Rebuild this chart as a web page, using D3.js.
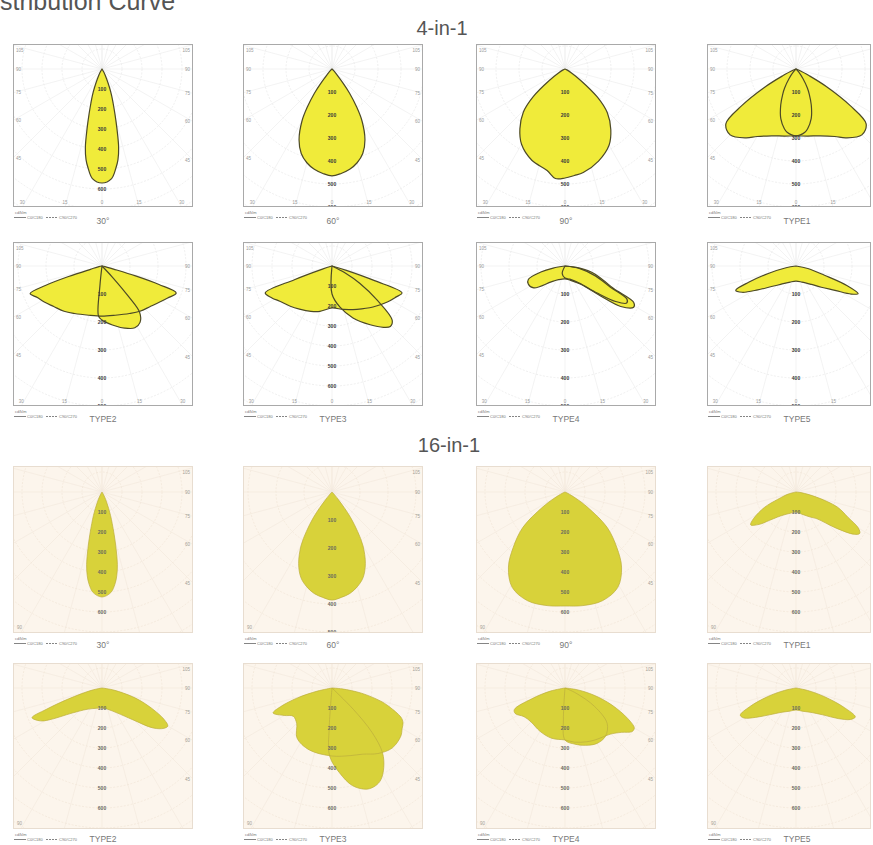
<!DOCTYPE html>
<html><head><meta charset="utf-8">
<script src="https://cdn.jsdelivr.net/npm/d3@7"></script>
<style>html,body{margin:0;padding:0;background:#fff;overflow:hidden}</style>
</head><body><svg id="c" width="873" height="845"></svg>
<script>
// ---------------- DATA ----------------
const pageTitle = "Light Distribution Curve";
const groupTitles = ["4-in-1", "16-in-1"];
const captions4 = ["30°", "60°", "90°", "TYPE1", "TYPE2", "TYPE3", "TYPE4", "TYPE5"];
const captions16 = ["30°", "60°", "90°", "TYPE1", "TYPE2", "TYPE3", "TYPE4", "TYPE5"];
const ringTicks = [100, 200, 300, 400, 500, 600];      // cd/klm
const ringStep = 100;
const angleTicks = [-180,-165,-150,-135,-120,-105,-90,-75,-60,-45,-30,-15,0,15,30,45,60,75,90,105,120,135,150,165,180];
const legendUnit = "cd/klm";
const legendLabels = ["C0/C180", "C90/C270"];

// curves: [angle from nadir (deg), intensity (cd/klm)]
// 4-in-1
const a4_30 = [[-40,0],[-30,20],[-25,55],[-22,100],[-20,140],[-18,180],[-16,235],[-14,310],[-12,400],[-10,460],[-8,500],[-5,550],[0,570],[5,550],[8,500],[10,460],[12,400],[14,310],[16,235],[18,180],[20,140],[22,100],[25,55],[30,20],[40,0]];
const a4_60 = [[-50,0],[-45,9],[-40,35],[-38,78],[-36,130],[-33,196],[-30,261],[-25,339],[-20,391],[-15,422],[-10,443],[-5,456],[0,465],[5,456],[10,443],[15,422],[20,391],[25,339],[30,261],[33,196],[36,130],[38,78],[40,35],[45,9],[50,0]];
const a4_90 = [[-75,0],[-65,9],[-58,35],[-54,83],[-49,183],[-44,261],[-37,326],[-30,378],[-20,422],[-10,448],[-5,478],[0,474],[5,465],[10,457],[20,426],[30,383],[37,331],[44,265],[49,187],[54,83],[58,35],[65,9],[75,0]];
const a4_t1_c90 = [[-75,0],[-68,17],[-63,65],[-60,152],[-56,283],[-52,387],[-45,405],[-36,370],[-30,339],[-20,309],[-10,296],[0,291],[10,296],[20,309],[30,339],[36,370],[45,405],[52,387],[56,283],[60,152],[63,65],[68,17],[75,0]];
const a4_t1_c0 = [[-50,0],[-42,17],[-36,52],[-31,96],[-28,122],[-23,170],[-17,226],[-11,265],[-8,278],[0,291],[8,278],[11,265],[17,226],[23,170],[28,122],[31,96],[36,52],[42,17],[50,0]];
const a4_t2_c90 = [[-85,0],[-78,11],[-74,43],[-72.5,125],[-71,214],[-69,275],[-64,257],[-58,243],[-50,225],[-40,211],[-30,196],[-15,182],[0,179],[15,182],[30,196],[40,211],[50,225],[58,243],[64,261],[70,282],[72,214],[73.5,125],[75,43],[79,11],[86,0]];
const a4_t2_c0 = [[-10,0],[-6,71],[-4,179],[0,193],[10,214],[20,236],[28,250],[34,243],[39,214],[41,143],[43,54],[48,0]];
const a4_t3_c90 = [[-80,0],[-72,50],[-70,200],[-68,360],[-62,340],[-56,315],[-46,290],[-37,270],[-25,250],[-15,235],[0,210],[15,225],[30,250],[45,290],[57,330],[64,355],[69,375],[71,225],[73,75],[78,0]];
const a4_t3_c0 = [[-5,0],[0,140],[11,210],[22,280],[33,350],[40,400],[44,420],[48,405],[53,280],[58,165],[62,75],[66,0]];
const a4_t4_c90 = [[-85,0],[-80,43],[-76,89],[-70,139],[-64,146],[-55,136],[-41,75],[-25,54],[0,46],[20,54],[41,86],[50,168],[54,246],[59,286],[62,278],[65,193],[70,143],[77,96],[84,36],[90,0]];
const a4_t4_c0 = [[-40,0],[-20,29],[0,43],[20,50],[40,79],[50,150],[55,221],[59,257],[62,250],[65,179],[72,114],[80,54],[88,0]];
const a4_t5 = [[-85,0],[-80,36],[-75,100],[-71,179],[-68,232],[-64,214],[-58,161],[-50,114],[-40,86],[-20,61],[0,54],[20,61],[40,86],[50,118],[58,164],[63,221],[66,243],[69,196],[72,107],[78,43],[85,0]];
// 16-in-1
const b16_30 = [[-40,0],[-30,15],[-25,50],[-22,90],[-20,125],[-18,165],[-16,220],[-14,290],[-12,370],[-10,425],[-8,465],[-5,505],[0,525],[5,505],[8,465],[10,425],[12,370],[14,290],[16,220],[18,165],[20,125],[22,90],[25,50],[30,15],[40,0]];
const b16_60 = [[-50,0],[-45,7],[-40,32],[-38,71],[-36,114],[-33,168],[-30,221],[-25,282],[-20,325],[-15,350],[-10,368],[-5,378],[0,386],[5,378],[10,368],[15,350],[20,325],[25,282],[30,221],[33,168],[36,114],[38,71],[40,32],[45,7],[50,0]];
const b16_90 = [[-75,0],[-65,15],[-60,60],[-56,135],[-50,275],[-43,380],[-37,470],[-29,545],[-19,575],[-9,575],[0,570],[9,575],[19,575],[29,545],[37,470],[43,380],[50,275],[56,135],[60,60],[65,15],[75,0]];
const b16_t1 = [[-85,0],[-75,40],[-68,100],[-64,175],[-58,250],[-54,280],[-48,240],[-45,210],[-32,140],[-15,110],[0,100],[15,115],[30,145],[38,170],[48,270],[54,360],[57,380],[60,360],[64,290],[70,220],[76,105],[83,25],[88,0]];
const b16_t2 = [[-85,0],[-78,50],[-72,175],[-69,300],[-67,380],[-62,350],[-59,310],[-50,195],[-35,130],[-15,105],[0,100],[15,110],[31,145],[44,220],[52,325],[57,370],[60,380],[63,350],[66,300],[70,230],[74,160],[80,60],[86,0]];
const b16_t3_c90 = [[-85,0],[-78,75],[-74,180],[-70,275],[-67,320],[-60,275],[-54,240],[-45,250],[-35,305],[-20,330],[0,340],[15,350],[25,365],[35,400],[45,425],[55,420],[60,405],[64,395],[67,375],[72,300],[75,250],[80,150],[85,50],[90,0]];
const b16_t3_c0 = [[-8,0],[-4,200],[-2,340],[5,425],[12,500],[19,535],[24,535],[28,520],[33,475],[38,410],[42,300],[45,150],[48,0]];
const b16_t4_c90 = [[-85,0],[-78,75],[-72,175],[-67,275],[-63,280],[-55,250],[-45,240],[-30,250],[-15,260],[0,260],[10,275],[22,290],[30,300],[38,310],[45,325],[52,360],[57,400],[60,400],[64,350],[70,250],[76,150],[82,60],[88,0]];
const b16_t4_c0 = [[-6,0],[-3,150],[0,260],[10,285],[20,305],[30,320],[40,315],[50,275],[58,175],[65,60],[72,0]];
const b16_t5 = [[-85,0],[-78,60],[-73,150],[-68,250],[-64,310],[-60,300],[-54,250],[-45,190],[-30,140],[-15,120],[0,110],[15,120],[30,140],[45,190],[54,260],[60,315],[64,330],[68,260],[73,150],[78,60],[85,0]];

const panelCurves = [
  [a4_30],[a4_60],[a4_90],[a4_t1_c90,a4_t1_c0],
  [a4_t2_c90,a4_t2_c0],[a4_t3_c90,a4_t3_c0],[a4_t4_c90,a4_t4_c0],[a4_t5],
  [b16_30],[b16_60],[b16_90],[b16_t1],
  [b16_t2],[b16_t3_c90,b16_t3_c0],[b16_t4_c90,b16_t4_c0],[b16_t5]
];
const panelCaptions = captions4.concat(captions16);

// ---------------- LAYOUT / STYLE ----------------
const colLeft = [13, 243, 476, 707];
const rowsL = [{top:44,h:163,oy:25},{top:242,h:164,oy:24},{top:466,h:167,oy:26},{top:663,h:166,oy:25}];
const captionDY = [17, 16, 15, 13];
const boxW = 180, rightLimit = 871, originDX = 89;
const ringPx = [20,23,23,23, 28,20,28,28, 20,28,20,20, 20,20,20,20];
const styles = [
  {bg:"#ffffff", border:"#a9a9a9", ring:"#e8e8e8", ray:"#ebebeb", fill:"#f0eb3a", stroke:"#4d4a26", sw:1.2, lab:"#3a3a3a", edge:"#9a9a9a"},
  {bg:"#fcf5ec", border:"#e8ddd0", ring:"#f0e5d7", ray:"#f2e8dc", fill:"#d8d23a", stroke:"#bcae3c", sw:0.7, lab:"#6a6a60", edge:"#a59f97"}
];
const font = "'Liberation Sans', Arial, sans-serif";

const svg = d3.select("#c");
const defs = svg.append("defs");

// title: only its tail "stribution Curve" is visible, starting at the left edge
const titleT = svg.append("text").attr("x", 0).attr("y", 10)
  .attr("font-family", font).attr("font-size", 25).attr("fill", "#555").text(pageTitle);
const cutPos = titleT.node().getStartPositionOfChar(8).x;
titleT.attr("x", -cutPos);

svg.append("text").attr("x", 442).attr("y", 35).attr("text-anchor","middle")
  .attr("font-family", font).attr("font-size", 20).attr("fill", "#555").text(groupTitles[0]);
svg.append("text").attr("x", 449).attr("y", 452).attr("text-anchor","middle")
  .attr("font-family", font).attr("font-size", 20).attr("fill", "#555").text(groupTitles[1]);

panelCurves.forEach((curves, i) => {
  const row = Math.floor(i / 4), col = i % 4, grp = row < 2 ? 0 : 1;
  const st = styles[grp];
  const L = rowsL[row];
  const left = colLeft[col], top = L.top, h = L.h;
  const w = Math.min(boxW, rightLimit - left);
  const ox = originDX, oy = L.oy;
  const rScale = d3.scaleLinear().domain([0, ringStep]).range([0, ringPx[i]]);

  const g = svg.append("g").attr("transform", `translate(${left},${top})`);
  const cid = "clip" + i;
  defs.append("clipPath").attr("id", cid).append("rect").attr("width", w).attr("height", h);

  g.append("rect").attr("width", w).attr("height", h).attr("fill", st.bg);
  const inner = g.append("g").attr("clip-path", `url(#${cid})`);

  // rays
  inner.selectAll("line.ray").data(angleTicks).join("line")
    .attr("x1", ox).attr("y1", oy)
    .attr("x2", d => ox + 400 * Math.sin(d * Math.PI / 180))
    .attr("y2", d => oy + 400 * Math.cos(d * Math.PI / 180))
    .attr("stroke", st.ray).attr("stroke-width", 0.6);
  // rings
  const ringVals = d3.range(1, 10).map(k => k * ringStep);
  inner.selectAll("circle.ring").data(ringVals).join("circle")
    .attr("cx", ox).attr("cy", oy).attr("r", d => rScale(d))
    .attr("fill", "none").attr("stroke", st.ring).attr("stroke-width", 0.7)
    .attr("stroke-dasharray", "2,1.5");

  // curves
  const line = d3.lineRadial()
    .angle(d => Math.PI - d[0] * Math.PI / 180)
    .radius(d => rScale(d[1]))
    .curve(d3.curveCatmullRomClosed.alpha(0.5));
  const sg = inner.append("g").attr("transform", `translate(${ox},${oy})`);
  sg.selectAll("path.fill").data(curves).join("path")
    .attr("d", line).attr("fill", st.fill).attr("stroke", "none");
  sg.selectAll("path.line").data(curves).join("path")
    .attr("d", line).attr("fill", "none").attr("stroke", st.stroke)
    .attr("stroke-width", st.sw).attr("stroke-linejoin", "round");

  // ring labels
  inner.selectAll("text.rl").data(ringTicks).join("text")
    .attr("x", ox).attr("y", d => oy + rScale(d) + 1.8)
    .attr("text-anchor", "middle").attr("font-family", font)
    .attr("font-size", 5).attr("font-weight", "bold").attr("fill", st.lab).text(d => d);

  // border
  g.append("rect").attr("x", 0.5).attr("y", 0.5).attr("width", w - 1).attr("height", h - 1)
    .attr("fill", "none").attr("stroke", st.border).attr("stroke-width", 1);

  // edge angle labels
  angleTicks.forEach(a => {
    const s = Math.sin(a * Math.PI / 180), c = Math.cos(a * Math.PI / 180);
    let best = Infinity, edge = null;
    if (s < -1e-6) { const t = -ox / s; if (t < best) { best = t; edge = "L"; } }
    if (s > 1e-6) { const t = (boxW - ox) / s; if (t < best) { best = t; edge = "R"; } }
    if (c > 1e-6) { const t = (h - oy) / c; if (t < best) { best = t; edge = "B"; } }
    if (c < -1e-6) { const t = -oy / c; if (t < best) { best = t; edge = "T"; } }
    if (edge === "T") return;
    if (grp === 1 && edge !== "R") return;
    let x = ox + best * s, y = oy + best * c;
    let anchor = "middle";
    if (edge === "L") { x = 3; anchor = "start"; y = Math.max(6, Math.min(h - 6, y)) + 1.5; }
    if (edge === "R") { x = boxW - 3; anchor = "end"; y = Math.max(6, Math.min(h - 6, y)) + 1.5; }
    if (edge === "B") { y = h - 3; x = Math.max(6, Math.min(boxW - 6, x)); }
    if (x > w) return;
    g.append("text").attr("x", x).attr("y", y).attr("text-anchor", anchor)
      .attr("font-family", font).attr("font-size", 4.5).attr("fill", st.edge).text(Math.abs(a));
  });
  if (grp === 1) {
    g.append("text").attr("x", 4).attr("y", h - 4).attr("font-family", font)
      .attr("font-size", 4.5).attr("fill", st.edge).text(angleTicks[6] * -1);
  }

  // legend
  const lg = g.append("g").attr("transform", `translate(0,${h})`);
  lg.append("text").attr("x", 2).attr("y", 7).attr("font-family", font).attr("font-size", 4)
    .attr("fill", "#777").text(legendUnit);
  lg.append("line").attr("x1", 1).attr("x2", 13).attr("y1", 10.5).attr("y2", 10.5)
    .attr("stroke", "#666").attr("stroke-width", 0.8);
  lg.append("text").attr("x", 14).attr("y", 12).attr("font-family", font).attr("font-size", 4)
    .attr("fill", "#777").text(legendLabels[0]);
  lg.append("line").attr("x1", 33).attr("x2", 45).attr("y1", 10.5).attr("y2", 10.5)
    .attr("stroke", "#666").attr("stroke-width", 0.8).attr("stroke-dasharray", "2,1");
  lg.append("text").attr("x", 46).attr("y", 12).attr("font-family", font).attr("font-size", 4)
    .attr("fill", "#777").text(legendLabels[1]);
  lg.append("text").attr("x", ox + 1).attr("y", captionDY[row]).attr("text-anchor", "middle")
    .attr("font-family", font).attr("font-size", 8.5).attr("fill", "#777").text(panelCaptions[i]);
});
</script>
</body></html>
